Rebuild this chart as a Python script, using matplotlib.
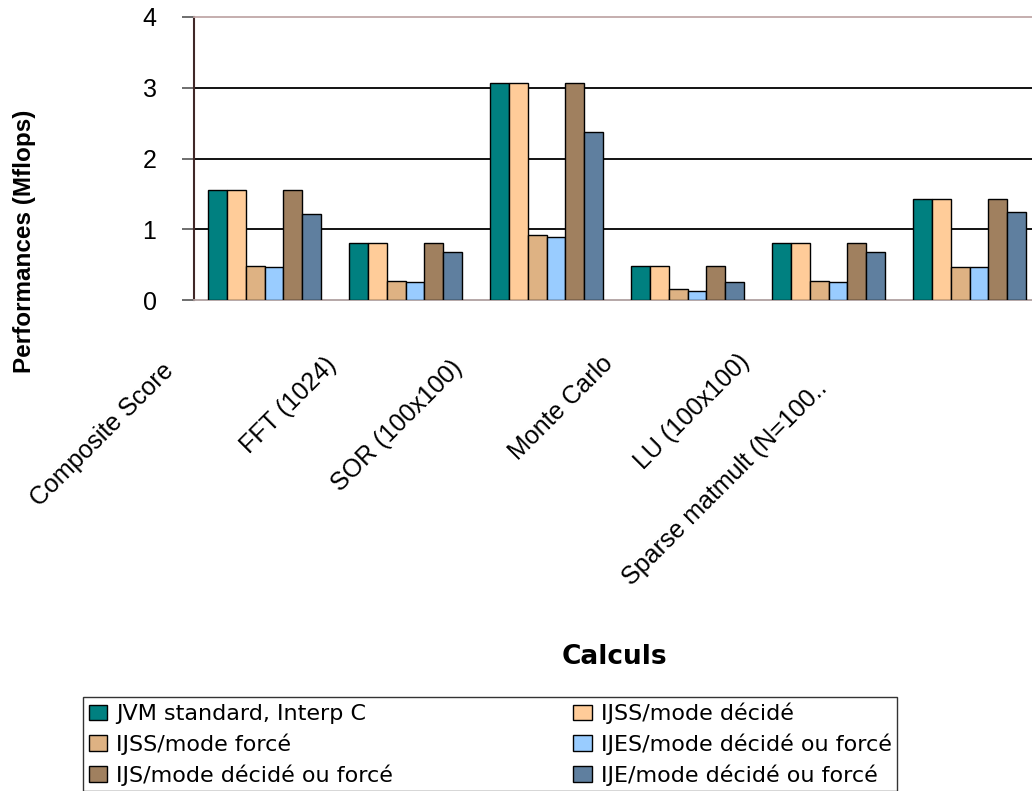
import numpy as np
import matplotlib
matplotlib.use("Agg")
import matplotlib.pyplot as plt
from matplotlib.patches import Patch
from matplotlib.transforms import ScaledTranslation

plt.rcParams['font.family'] = ['Liberation Sans', 'DejaVu Sans']

categories = ["Composite Score", "FFT (1024)", "SOR (100x100)", "Monte Carlo",
              "LU (100x100)", "Sparse matmult (N=100.."]
series_names = ["JVM standard, Interp C", "IJSS/mode décidé", "IJSS/mode forcé",
                "IJES/mode décidé ou forcé", "IJS/mode décidé ou forcé",
                "IJE/mode décidé ou forcé"]
jvm_standard = [1.56, 0.80, 3.07, 0.48, 0.80, 1.43]
ijss_decide = [1.56, 0.80, 3.07, 0.48, 0.80, 1.43]
ijss_force = [0.48, 0.27, 0.92, 0.15, 0.27, 0.47]
ijes = [0.47, 0.25, 0.89, 0.13, 0.25, 0.47]
ijs = [1.56, 0.80, 3.07, 0.48, 0.80, 1.43]
ije = [1.22, 0.68, 2.37, 0.26, 0.68, 1.24]
yticks = [0, 1, 2, 3, 4]
colors = ['#008080', '#FFCC99', '#DEB283', '#99CCFF', '#A0805F', '#5F7F9F']

series = [jvm_standard, ijss_decide, ijss_force, ijes, ijs, ije]

W, H = 1032, 791
fig = plt.figure(figsize=(W / 100, H / 100), dpi=100)
ax = fig.add_axes([194 / W, 1 - 300 / H, (W - 194) / W, (300 - 17) / H])

x = np.arange(len(categories))
bw = 0.134
for k, (vals, c) in enumerate(zip(series, colors)):
    ax.bar(x + (k - 2.5) * bw, vals, width=bw, color=c, edgecolor='black',
           linewidth=1.0, zorder=3)

ax.set_xlim(-0.5, -0.5 + (W - 194) / 141.0)
ax.set_ylim(0, 4)
ax.set_yticks(yticks)
ax.set_yticklabels([str(t) for t in yticks], fontsize=18)
ax.tick_params(axis='y', direction='out', length=9, width=1.2, color='#555555', pad=18)
ax.set_xticks([])

ax.grid(axis='y', color='black', linewidth=1.3, zorder=1)
ax.set_axisbelow(True)
gls = ax.yaxis.get_gridlines()
gls[0].set_visible(False)
gls[-1].set_visible(False)

ax.spines['left'].set_color('#402828')
ax.spines['left'].set_linewidth(1.5)
ax.spines['top'].set_color('#C0A8A8')
ax.spines['top'].set_linewidth(1.3)
ax.spines['bottom'].set_color('#B0A0A0')
ax.spines['bottom'].set_linewidth(1.3)
ax.spines['right'].set_visible(False)

# category labels (rotated, offset as in the reference)
offsets = [(-95, 67), (-73, 61), (-88, 64), (-78, 60), (-83, 58), (-146, 85)]
for i, (lab, (dx, dy)) in enumerate(zip(categories, offsets)):
    tr = ax.get_xaxis_transform() + ScaledTranslation(dx / 100, -dy / 100, fig.dpi_scale_trans)
    ax.text(i, 0, lab, transform=tr, rotation=45, rotation_mode='anchor',
            ha='right', va='center', fontsize=18)

fig.text(25 / W, 1 - 241 / H, "Performances (Mflops)", rotation=90, ha='center',
         va='center', fontsize=17.5, fontweight='bold')
fig.text(614 / W, 1 - 657 / H, "Calculs", ha='center', va='center', fontsize=19,
         fontweight='bold', family='DejaVu Sans')

order = [0, 2, 4, 1, 3, 5]
handles = [Patch(facecolor=colors[k], edgecolor='black', linewidth=1.0) for k in order]
labels = [series_names[k] for k in order]
leg = fig.legend(handles, labels, ncol=2, loc='upper left',
                 bbox_to_anchor=(83 / W, 1 - 697 / H, (897 - 83) / W, 0.0),
                 mode='expand', borderaxespad=0,
                 prop={'family': 'DejaVu Sans', 'size': 16},
                 frameon=True, fancybox=False, edgecolor='black',
                 handlelength=0.85, handleheight=0.68, handletextpad=0.4,
                 labelspacing=0.42, borderpad=0.25)
leg.get_frame().set_linewidth(1.0)

fig.savefig("out.png", dpi=100)
